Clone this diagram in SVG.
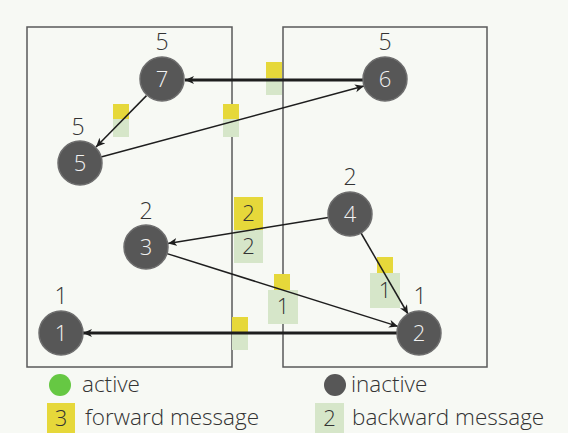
<svg xmlns="http://www.w3.org/2000/svg" width="568" height="433" viewBox="0 0 568 433">
  <style>
    .bg { fill: #f7f9f4; }
    .box { fill: none; stroke: #5a5a5a; stroke-width: 1.5; }
    .node { fill: #575757; stroke: #6e6e6e; stroke-width: 1.5; }
    .nid { fill: #f2f2f2; font-family: "Open Sans", "DejaVu Sans", sans-serif; font-weight: 300; font-size: 22px; text-anchor: middle; }
    .val { fill: #333; font-family: "Open Sans", "DejaVu Sans", sans-serif; font-weight: 300; font-size: 23px; text-anchor: middle; }
    .fwd { fill: #e6d83a; }
    .bwd { fill: #d6e6c9; }
    .msg { fill: #333; font-family: "Open Sans", "DejaVu Sans", sans-serif; font-weight: 300; font-size: 22px; text-anchor: middle; }
    .edge { fill: none; stroke: #1e1e1e; stroke-width: 1.5; }
    .thick { stroke-width: 3; }
    .leg { fill: #333; font-family: "Open Sans", "DejaVu Sans", sans-serif; font-weight: 300; font-size: 22.5px; }
  </style>
  <defs>
    <marker id="arrow" markerUnits="userSpaceOnUse" markerWidth="10" markerHeight="10" refX="9" refY="4" orient="auto">
      <path d="M0,0 L9,4 L0,8 L2.5,4 z" fill="#1e1e1e"/>
    </marker>
  </defs>

  <rect class="bg" x="0" y="0" width="568" height="433"/>

  <!-- partitions -->
  <rect class="box" x="27" y="27" width="205" height="340"/>
  <rect class="box" x="283" y="27" width="204" height="340"/>

  <!-- messages in flight -->
  <g id="messages">
    <rect class="fwd" x="266" y="62" width="16" height="16"/>
    <rect class="bwd" x="266" y="78" width="16" height="17"/>
    <rect class="fwd" x="113" y="104" width="16" height="15"/>
    <rect class="bwd" x="113" y="119" width="16" height="18"/>
    <rect class="fwd" x="223" y="104" width="16" height="15"/>
    <rect class="bwd" x="223" y="119" width="16" height="18"/>
    <rect class="fwd" x="234" y="197" width="29" height="33"/>
    <text class="msg" x="248.5" y="221">2</text>
    <rect class="bwd" x="234" y="230" width="29" height="33"/>
    <text class="msg" x="248.5" y="254">2</text>
    <rect class="fwd" x="274" y="274" width="16" height="16"/>
    <rect class="bwd" x="268" y="290" width="30" height="34"/>
    <text class="msg" x="283" y="314">1</text>
    <rect class="fwd" x="377" y="257" width="16" height="16"/>
    <rect class="bwd" x="370" y="273" width="30" height="35"/>
    <text class="msg" x="385" y="298">1</text>
    <rect class="fwd" x="232" y="317" width="16" height="15"/>
    <rect class="bwd" x="232" y="332" width="16" height="18"/>
  </g>

  <!-- connectors -->
  <g id="connectors">
    <line class="edge thick" x1="363" y1="80" x2="185" y2="80" marker-end="url(#arrow)"/>
    <line class="edge" x1="146.5" y1="95.6" x2="96" y2="147" marker-end="url(#arrow)"/>
    <line class="edge" x1="101" y1="157" x2="364" y2="86" marker-end="url(#arrow)"/>
    <line class="edge" x1="328.3" y1="217.5" x2="168" y2="243.5" marker-end="url(#arrow)"/>
    <line class="edge" x1="167" y1="253.6" x2="398" y2="326.4" marker-end="url(#arrow)"/>
    <line class="edge" x1="361" y1="233" x2="408" y2="314" marker-end="url(#arrow)"/>
    <line class="edge thick" x1="397" y1="333" x2="83" y2="333" marker-end="url(#arrow)"/>
  </g>

  <!-- vertices -->
  <g id="n7">
    <circle class="node" cx="162" cy="79" r="22"/>
    <text class="nid" x="162" y="87">7</text>
    <text class="val" x="162" y="50">5</text>
  </g>
  <g id="n6">
    <circle class="node" cx="385" cy="79" r="22"/>
    <text class="nid" x="385" y="87">6</text>
    <text class="val" x="385" y="50">5</text>
  </g>
  <g id="n5">
    <circle class="node" cx="80" cy="163" r="22"/>
    <text class="nid" x="80" y="171">5</text>
    <text class="val" x="78" y="135">5</text>
  </g>
  <g id="n3">
    <circle class="node" cx="146" cy="247" r="22"/>
    <text class="nid" x="146" y="255">3</text>
    <text class="val" x="146" y="219">2</text>
  </g>
  <g id="n4">
    <circle class="node" cx="350" cy="214" r="22"/>
    <text class="nid" x="350" y="222">4</text>
    <text class="val" x="350" y="185">2</text>
  </g>
  <g id="n2">
    <circle class="node" cx="419" cy="333" r="22"/>
    <text class="nid" x="419" y="341">2</text>
    <text class="val" x="420" y="304">1</text>
  </g>
  <g id="n1">
    <circle class="node" cx="61" cy="333" r="22"/>
    <text class="nid" x="61" y="341">1</text>
    <text class="val" x="61" y="304">1</text>
  </g>

  <!-- legend -->
  <g id="legend">
    <circle cx="60" cy="385" r="11" fill="#66c843"/>
    <text class="leg" x="82" y="392">active</text>
    <circle cx="335" cy="385" r="11" fill="#575757"/>
    <text class="leg" x="351" y="392">inactive</text>
    <rect class="fwd" x="47" y="403" width="28" height="30"/>
    <text class="msg" x="61" y="426">3</text>
    <text class="leg" x="85" y="425">forward message</text>
    <rect class="bwd" x="315" y="403" width="29" height="30"/>
    <text class="msg" x="329.5" y="426">2</text>
    <text class="leg" x="352" y="425">backward message</text>
  </g>
</svg>
